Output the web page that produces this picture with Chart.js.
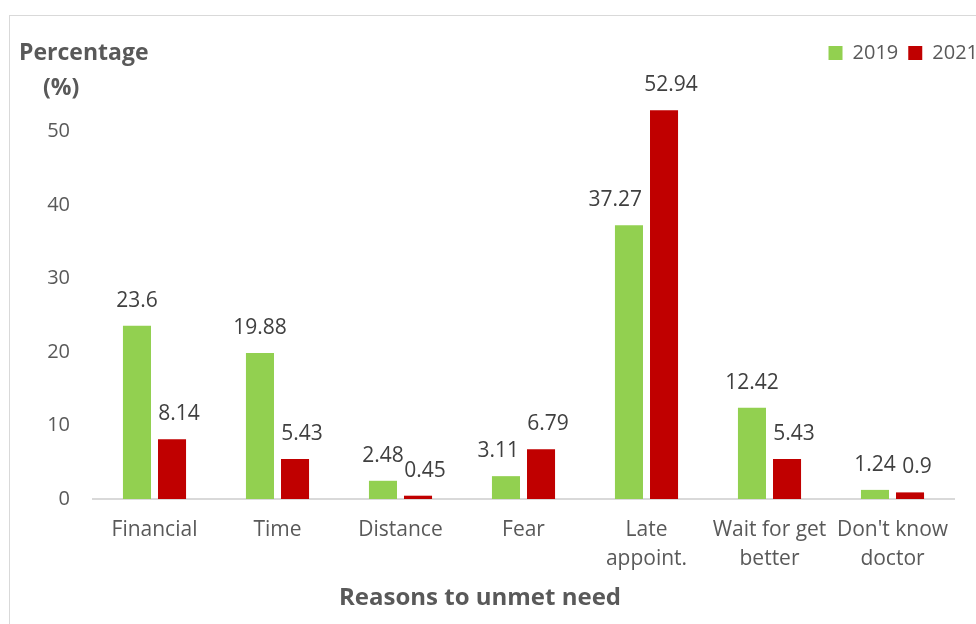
<!DOCTYPE html>
<html>
<head>
<meta charset="utf-8">
<script src="https://cdn.jsdelivr.net/npm/chart.js@4"></script>
<style>
    html, body { margin: 0; padding: 0; background: #fff; overflow: hidden; }
    #frame {
        position: absolute;
        left: 9px;
        top: 15px;
        border-left: 1px solid #d9d9d9;
        border-top: 1px solid #d9d9d9;
    }
    canvas { display: block; }
</style>
</head>
<body>
<div id="frame">
    <canvas id="barChart" width="978" height="608"></canvas>
</div>
<script>
// Chart data
const categories = ['Financial', 'Time', 'Distance', 'Fear', ['Late', 'appoint.'], ['Wait for get', 'better'], ["Don't know", 'doctor']];
const values2019 = [23.6, 19.88, 2.48, 3.11, 37.27, 12.42, 1.24];
const values2021 = [8.14, 5.43, 0.45, 6.79, 52.94, 5.43, 0.9];
const yTicks = [0, 10, 20, 30, 40, 50];

const textColor = '#595959';
const fontFamily = "'Open Sans', 'DejaVu Sans', sans-serif";

// Value labels on top of each bar (2021 labels nudged right, 2019 labels
// pushed left when they would run into the taller 2021 bar)
const barLabels = {
    id: 'barLabels',
    afterDatasetsDraw(chart) {
        const ctx = chart.ctx;
        const green = chart.getDatasetMeta(0).data;
        const red = chart.getDatasetMeta(1).data;
        ctx.save();
        ctx.font = '21px ' + fontFamily;
        ctx.fillStyle = '#404040';
        ctx.textAlign = 'center';
        ctx.textBaseline = 'middle';
        chart.data.datasets.forEach((ds, i) => {
            chart.getDatasetMeta(i).data.forEach((bar, j) => {
                const text = String(ds.data[j]);
                const y = bar.y - 25;
                let x = bar.x;
                if (i === 1) {
                    x += 7;
                } else {
                    const w = ctx.measureText(text).width;
                    const other = red[j];
                    const redLeft = other.x - other.width / 2;
                    if (other.y < y + 10 && x + w / 2 > redLeft - 8) {
                        x = redLeft - 8 - w / 2;
                    }
                }
                ctx.fillText(text, x, y);
            });
        });
        ctx.restore();
    }
};

// Axis titles placed like the original
const axisTitles = {
    id: 'axisTitles',
    afterDraw(chart) {
        const ctx = chart.ctx;
        ctx.save();
        ctx.fillStyle = textColor;
        ctx.textBaseline = 'middle';
        ctx.textAlign = 'left';
        ctx.font = 'bold 23px ' + fontFamily;
        ctx.fillText('Percentage', 9, 37);
        ctx.fillText('(%)', 33, 72);
        ctx.textAlign = 'center';
        ctx.font = 'bold 24px ' + fontFamily;
        ctx.fillText('Reasons to unmet need', 470, 582);
        ctx.restore();
    }
};

const ctx = document.getElementById('barChart');
const barChart = new Chart(ctx.getContext('2d'), {
    type: 'bar',
    data: {
        labels: categories,
        datasets: [
            { label: '2019', data: values2019, backgroundColor: '#92D050', borderWidth: 0 },
            { label: '2021', data: values2021, backgroundColor: '#C00000', borderWidth: 0 }
        ]
    },
    options: {
        responsive: false,
        animation: false,
        devicePixelRatio: 1,
        datasets: {
            bar: { barPercentage: 0.8, categoryPercentage: 0.57 }
        },
        layout: { padding: { top: 17, left: 0, right: 0, bottom: 0 } },
        plugins: {
            legend: {
                position: 'top',
                align: 'end',
                labels: {
                    boxWidth: 14,
                    boxHeight: 14,
                    padding: 10,
                    color: textColor,
                    font: { family: fontFamily, size: 20 }
                }
            },
            tooltip: { enabled: false }
        },
        scales: {
            x: {
                grid: { display: false, drawTicks: false },
                border: { display: true, color: '#d9d9d9', width: 2 },
                ticks: {
                    color: textColor,
                    padding: 17,
                    maxRotation: 0,
                    autoSkip: false,
                    font: { family: fontFamily, size: 21, lineHeight: 1.38 }
                },
                afterFit(scale) { scale.height = 125; }
            },
            y: {
                min: 0,
                max: 58,
                grid: { display: false, drawTicks: false },
                border: { display: false },
                ticks: {
                    stepSize: 10,
                    padding: 23,
                    color: textColor,
                    font: { family: fontFamily, size: 20 },
                    callback(value) {
                        return yTicks.includes(value) ? String(value) : '';
                    }
                },
                afterFit(scale) { scale.width = 83; }
            },
            // empty axis that keeps the plot away from the right edge
            spacer: {
                position: 'right',
                display: true,
                grid: { display: false, drawTicks: false },
                border: { display: false },
                ticks: { display: false },
                afterFit(scale) { scale.width = 34; }
            }
        }
    },
    plugins: [barLabels, axisTitles]
});
</script>
</body>
</html>
